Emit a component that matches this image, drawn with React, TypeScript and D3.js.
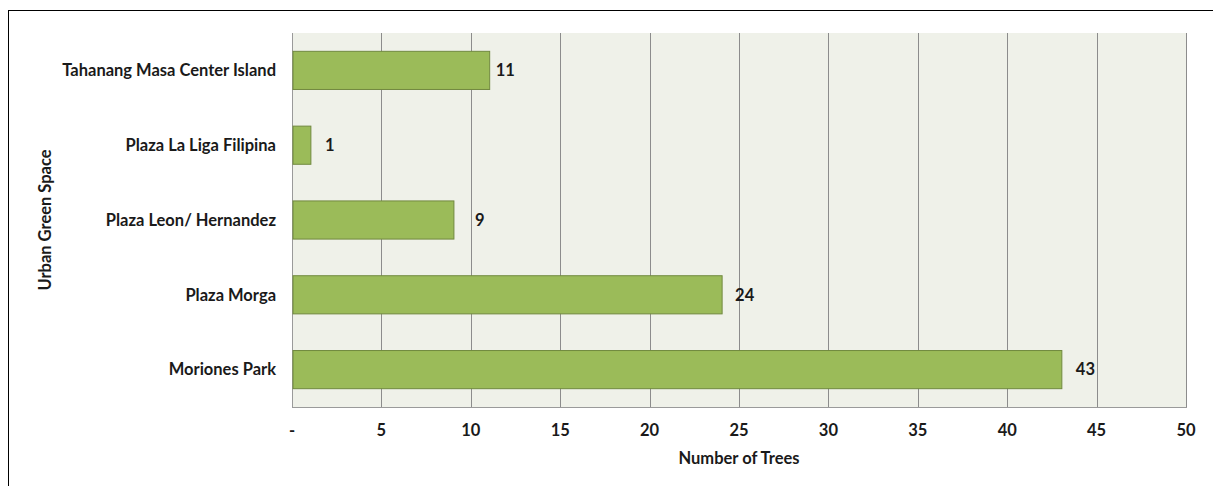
import React, { useEffect, useRef } from 'react'
import * as d3 from 'd3'

const categories = [
  'Tahanang Masa Center Island',
  'Plaza La Liga Filipina',
  'Plaza Leon/ Hernandez',
  'Plaza Morga',
  'Moriones Park'
]
const treeCounts = [11, 1, 9, 24, 43]
const tickValues = [0, 5, 10, 15, 20, 25, 30, 35, 40, 45, 50]
// labels were nudged by hand in the original
const labelNudge = [7, 15, 22, 14, 15]

const FONT = 'Lato, "Open Sans", sans-serif'
const FS = 16.5

export default function App() {
  const ref = useRef<SVGSVGElement>(null)

  useEffect(() => {
    const svg = d3.select(ref.current)
    svg.selectAll('*').remove()

    const plot = { left: 292, top: 33, right: 1186, bottom: 407 }

    // outer frame
    svg.append('rect')
      .attr('x', 8.5).attr('y', 10.5)
      .attr('width', 1213).attr('height', 486)
      .attr('fill', '#fff').attr('stroke', '#000').attr('stroke-width', 1)

    const x = d3.scaleLinear().domain([0, 50]).range([plot.left, plot.right])
    const y = d3.scaleBand<string>().domain(categories).range([plot.top, plot.bottom]).paddingInner(0.49).paddingOuter(0.245)

    svg.append('rect')
      .attr('x', plot.left).attr('y', plot.top)
      .attr('width', plot.right - plot.left).attr('height', plot.bottom - plot.top)
      .attr('fill', '#eff1e9')

    // gridlines
    svg.append('g')
      .selectAll('line')
      .data(tickValues.slice(1))
      .enter().append('line')
      .attr('x1', d => Math.round(x(d)) + 0.5).attr('x2', d => Math.round(x(d)) + 0.5)
      .attr('y1', plot.top).attr('y2', plot.bottom)
      .attr('stroke', '#8c8c8c').attr('stroke-width', 1)

    // axis lines
    svg.append('line')
      .attr('x1', plot.left + 0.5).attr('x2', plot.left + 0.5)
      .attr('y1', plot.top).attr('y2', plot.bottom + 1)
      .attr('stroke', '#9a9a9a')
    svg.append('line')
      .attr('x1', plot.left).attr('x2', plot.right + 1)
      .attr('y1', plot.bottom + 0.5).attr('y2', plot.bottom + 0.5)
      .attr('stroke', '#9a9a9a')

    // bars
    svg.append('g')
      .selectAll('rect')
      .data(categories)
      .enter().append('rect')
      .attr('x', plot.left + 1)
      .attr('y', d => y(d)!)
      .attr('width', (d, i) => x(treeCounts[i]) - plot.left)
      .attr('height', y.bandwidth())
      .attr('fill', '#9bbb59')
      .attr('stroke', '#71893f')
      .attr('stroke-width', 1)

    const label = (sel: any) => sel
      .attr('font-family', FONT).attr('font-weight', 700).attr('font-size', FS)
      .attr('fill', '#1a1a1a')

    // value labels
    svg.append('g')
      .selectAll('text')
      .data(categories)
      .enter().append('text')
      .attr('x', (d, i) => x(treeCounts[i]) + labelNudge[i])
      .attr('y', d => y(d)! + y.bandwidth() / 2)
      .attr('dy', '0.35em')
      .call(label)
      .text((d, i) => treeCounts[i])

    // category labels
    svg.append('g')
      .selectAll('text')
      .data(categories)
      .enter().append('text')
      .attr('x', 276)
      .attr('y', d => y(d)! + y.bandwidth() / 2)
      .attr('dy', '0.35em')
      .attr('text-anchor', 'end')
      .call(label)
      .text(d => d)

    // x tick labels
    svg.append('g')
      .selectAll('text')
      .data(tickValues)
      .enter().append('text')
      .attr('x', d => x(d))
      .attr('y', 430)
      .attr('dy', '0.35em')
      .attr('text-anchor', 'middle')
      .call(label)
      .text(d => (d === 0 ? '-' : String(d)))

    // axis titles
    svg.append('text')
      .attr('x', (plot.left + plot.right) / 2)
      .attr('y', 458)
      .attr('dy', '0.35em')
      .attr('text-anchor', 'middle')
      .call(label)
      .text('Number of Trees')

    svg.append('text')
      .attr('transform', `translate(45, ${(plot.top + plot.bottom) / 2}) rotate(-90)`)
      .attr('dy', '0.35em')
      .attr('text-anchor', 'middle')
      .call(label)
      .text('Urban Green Space')
  }, [])

  return (
    <svg ref={ref} width={1213} height={486}
      style={{ position: 'absolute', left: 0, top: 0, display: 'block' }} />
  )
}
